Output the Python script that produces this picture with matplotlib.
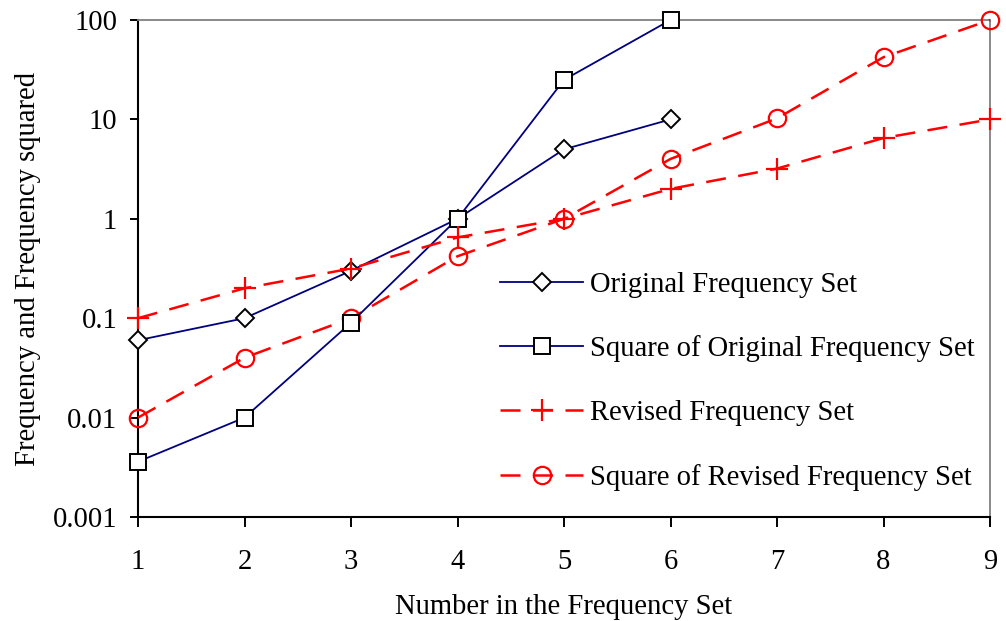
import matplotlib
matplotlib.use("Agg")
import matplotlib.pyplot as plt
from matplotlib.ticker import FixedLocator, FixedFormatter, NullLocator

# Data
x_orig = [1, 2, 3, 4, 5, 6]
original = [0.06, 0.1, 0.3, 1, 5, 10]
original_sq = [0.0036, 0.01, 0.09, 1, 25, 100]

x_rev = [1, 2, 3, 4, 5, 6, 7, 8, 9]
revised = [0.1, 0.2, 0.316, 0.65, 1, 2, 3.2, 6.5, 10]
revised_sq = [0.01, 0.04, 0.1, 0.42, 1, 4, 10.24, 42.25, 100]

y_ticks = [0.001, 0.01, 0.1, 1, 10, 100]
y_tick_labels = ["0.001", "0.01", "0.1", "1", "10", "100"]
x_ticks = [1, 2, 3, 4, 5, 6, 7, 8, 9]

FS = 20.6
plt.rcParams["font.family"] = ["Liberation Serif", "DejaVu Serif"]
plt.rcParams["font.size"] = FS

fig = plt.figure(figsize=(10.06, 6.21), dpi=100)
ax = fig.add_axes([138 / 1006, 1 - 517 / 621, (990 - 138) / 1006, (517 - 20) / 621])

navy = "#000080"
red = "#FF0000"
dash = (0, (8, 5))

ax.plot(x_orig, original, color=navy, lw=1.3, marker="D", ms=9.5,
        mfc="white", mec="black", mew=1.4, clip_on=False, zorder=4,
        label="Original Frequency Set")
ax.plot(x_orig, original_sq, color=navy, lw=1.3, marker="s", ms=11,
        mfc="white", mec="black", mew=1.4, clip_on=False, zorder=5,
        label="Square of Original Frequency Set")
ax.plot(x_rev, revised, color=red, lw=1.8, ls=dash, marker="+", ms=16,
        mec=red, mew=1.6, clip_on=False, zorder=6,
        label="Revised Frequency Set")
ax.plot(x_rev, revised_sq, color=red, lw=1.8, ls=dash, marker="o", ms=12.5,
        mfc="none", mec=red, mew=1.6, clip_on=False, zorder=4,
        label="Square of Revised Frequency Set")

ax.set_yscale("log")
ax.set_ylim(0.001, 100)
ax.set_xlim(1, 9)
ax.yaxis.set_major_locator(FixedLocator(y_ticks))
ax.yaxis.set_major_formatter(FixedFormatter(y_tick_labels))
ax.yaxis.set_minor_locator(NullLocator())
ax.xaxis.set_major_locator(FixedLocator(x_ticks))

for side in ("left", "bottom"):
    ax.spines[side].set_color("black")
    ax.spines[side].set_linewidth(1.5)
for side in ("top", "right"):
    ax.spines[side].set_color("#808080")
    ax.spines[side].set_linewidth(1.3)

ax.tick_params(axis="both", direction="out", width=1.4,
               colors="black", labelsize=FS)
ax.tick_params(axis="y", length=6, pad=9)
ax.tick_params(axis="x", length=7, pad=16)

ax.set_xlabel("Number in the Frequency Set", fontsize=FS, labelpad=14)
ax.set_ylabel("Frequency and Frequency squared", fontsize=FS, labelpad=8.5)

ax.legend(loc="center left", bbox_to_anchor=(0.425, 0.273), frameon=False,
          handlelength=2.9, handletextpad=0.25, labelspacing=1.32,
          borderaxespad=0, borderpad=0, numpoints=1, fontsize=FS)

fig.savefig("out.png", dpi=100)
